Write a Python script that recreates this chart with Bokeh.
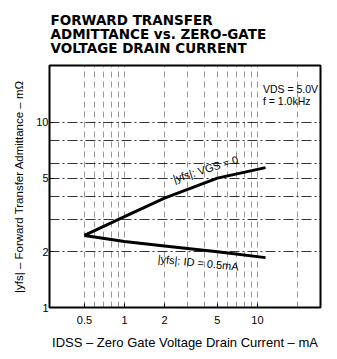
from bokeh.plotting import figure
from bokeh.models import FixedTicker, NumeralTickFormatter, Title, Range1d
from bokeh.core.properties import value
from bokeh.embed import file_html
from bokeh.resources import INLINE

# Data
idss_ma = [0.5, 1, 2, 5, 11.5]
yfs_vgs0 = [2.45, 3.1, 3.9, 5.0, 5.7]          # |yfs| at VGS = 0
yfs_id05 = [2.45, 2.27, 2.15, 2.0, 1.86]        # |yfs| at ID = 0.5 mA

x_ticks = [0.5, 1, 2, 5, 10]
y_ticks = [1, 2, 5, 10]
x_grid = [0.5, 0.6, 0.7, 0.8, 0.9, 1, 2, 3, 4, 5, 6, 7, 8, 9, 10, 20]
y_grid = [2, 3, 4, 5, 6, 8, 10]

title_lines = ["FORWARD TRANSFER", "ADMITTANCE vs. ZERO-GATE", "VOLTAGE DRAIN CURRENT"]
x_label = "IDSS – Zero Gate Voltage Drain Current – mA"
y_label = "|yfs| – Forward Transfer Admittance – mΩ"
cond_lines = ["VDS = 5.0V", "f = 1.0kHz"]
curve_labels = ["|yfs|:  VGS = 0", "|yfs|: ID = 0.5mA"]

FONT = "Liberation Sans"
TFONT = "DejaVu Sans"

p = figure(frame_width=271, frame_height=242, x_axis_type="log", y_axis_type="log",
           x_range=Range1d(0.273, 29.8), y_range=Range1d(1, 20.3),
           output_backend="svg", toolbar_location=None,
           min_border_left=49, min_border_right=9,
           min_border_top=57, min_border_bottom=44)

p.add_layout(Title(text="\n".join(title_lines), align="left", offset=1,
                   text_font=TFONT, text_font_size="13.5px", text_font_style="bold",
                   text_color="black", text_line_height=0.9, standoff=18), "above")

p.outline_line_color = "black"
p.outline_line_width = 2
p.outline_line_alpha = 1

# grids
p.xgrid.ticker = FixedTicker(ticks=x_grid)
p.ygrid.ticker = FixedTicker(ticks=y_grid)
p.xgrid.grid_line_color = "black"
p.xgrid.grid_line_alpha = 0.5
p.xgrid.grid_line_width = 0.8
p.xgrid.grid_line_dash = "6 4"
p.ygrid.grid_line_color = "black"
p.ygrid.grid_line_alpha = 0.8
p.ygrid.grid_line_width = 1
p.ygrid.grid_line_dash = "10 3 2 3"

# axes
for ax, ticks in ((p.xaxis[0], x_ticks), (p.yaxis[0], y_ticks)):
    ax.ticker = FixedTicker(ticks=ticks)
    ax.formatter = NumeralTickFormatter(format="0.[0]")
    ax.axis_line_color = None
    ax.major_tick_in = 4
    ax.major_tick_out = 0
    ax.minor_tick_line_color = None
    ax.major_label_text_font = FONT
    ax.major_label_text_font_size = "11px"
    ax.major_label_text_color = "black"
    ax.axis_label_text_font = FONT
    ax.axis_label_text_font_style = "normal"
    ax.axis_label_text_color = "black"

p.xaxis.axis_label = x_label
p.yaxis.axis_label = y_label
p.xaxis.axis_label_text_font_size = "13px"
p.yaxis.axis_label_text_font_size = "11.5px"
p.xaxis.major_label_standoff = 8
p.xaxis.axis_label_standoff = 8
p.yaxis.major_label_standoff = 1
p.yaxis.axis_label_standoff = 8

# curves
p.line(idss_ma, yfs_vgs0, line_color="black", line_width=3)
p.line(idss_ma, yfs_id05, line_color="black", line_width=3)

# curve labels
p.text(x=[2.4], y=[4.6], text=[curve_labels[0]], angle=0.3,
       text_font=value(FONT), text_font_size="11px", text_color="black",
       text_align="left", text_baseline="bottom")
p.text(x=[1.8], y=[1.98], text=[curve_labels[1]], angle=-0.1,
       text_font=value(FONT), text_font_size="11px", text_color="black",
       text_align="left", text_baseline="top")

# conditions
p.text(x=[11, 11], y=[15.2, 13.1], text=cond_lines,
       text_font=value(FONT), text_font_size="10.5px", text_color="black",
       text_align="left", text_baseline="middle")

open("out.html", "w").write(file_html(p, INLINE))
